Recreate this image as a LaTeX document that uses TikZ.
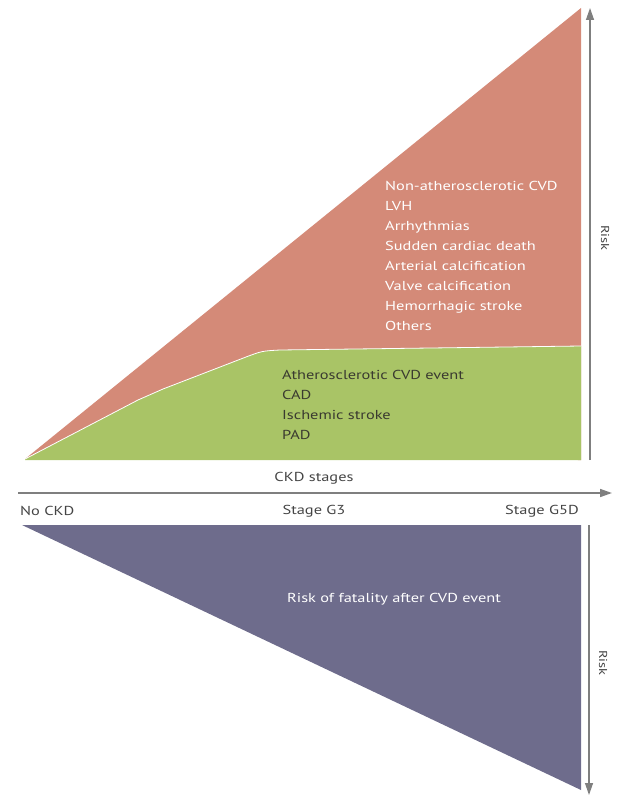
\documentclass[tikz,border=0pt]{standalone}
\usepackage{fontspec}
\setmainfont{PT Sans}[FakeStretch=1.26]
\usetikzlibrary{arrows.meta}
\definecolor{riskred}{HTML}{D48A78}
\definecolor{riskgreen}{HTML}{A9C466}
\definecolor{riskpurple}{HTML}{6E6C8C}
\definecolor{axisgray}{HTML}{7F7F7F}
\definecolor{darktext}{HTML}{3A3A30}
\definecolor{labeltext}{HTML}{444444}
\begin{document}
\begin{tikzpicture}[x=1pt,y=-1pt,
  listtext/.style={anchor=north west, inner sep=0pt, align=left, font=\fontsize{13}{20}\selectfont},
  axislabel/.style={inner sep=0pt, text=labeltext, font=\fontsize{13}{16}\selectfont},
  risklabel/.style={inner sep=0pt, rotate=-90, text=labeltext, font=\fontsize{11.5}{14}\selectfont},
  riskarrow/.style={draw=axisgray, line width=1.3pt, -{Triangle[length=12pt,width=8pt]}}]
\useasboundingbox (0,0) rectangle (624,800);
% upper triangle
\fill[riskred] (25,459) -- (581,8) -- (581,460) -- cycle;
\fill[riskgreen] (25,459) -- (138,400) .. controls (150,394) .. (163,389) -- (246,357) .. controls (262,351) .. (280,350) -- (581,346) -- (581,460) -- (25,460) -- cycle;
\draw[white, line width=0.8pt] (25,459) -- (138,400) .. controls (150,394) .. (163,389) -- (246,357) .. controls (262,351) .. (280,350) -- (581,346);
% lower triangle
\fill[riskpurple] (22,525) -- (581,525) -- (581,790) -- cycle;
% axis
\coordinate (axL) at (18,493);
\coordinate (axR) at (612,493);
\draw[axisgray, line width=1.5pt, -{Triangle[length=12pt,width=8pt]}] (axL) -- (axR);
% risk arrows
\coordinate (r1b) at (590,460);
\coordinate (r1t) at (590,8);
\draw[riskarrow] (r1b) -- (r1t);
\coordinate (r2t) at (589,525);
\coordinate (r2b) at (589,795);
\draw[riskarrow] (r2t) -- (r2b);
% texts
\node[listtext, text=white] (nonath) at (385,181) {Non-atherosclerotic CVD\\LVH\\Arrhythmias\\Sudden cardiac death\\Arterial calcification\\Valve calcification\\Hemorrhagic stroke\\Others};
\node[listtext, text=darktext] (ath) at (282,370) {Atherosclerotic CVD event\\CAD\\Ischemic stroke\\PAD};
\node[axislabel] (ckd) at (314,478) {CKD stages};
\node[axislabel, anchor=west] (nockd) at (20,511) {No CKD};
\node[axislabel] (g3) at (314,511) {Stage G3};
\node[axislabel] (g5d) at (542,511) {Stage G5D};
\node[inner sep=0pt, text=white, font=\fontsize{13}{16}\selectfont] (fatal) at (394,599) {Risk of fatality after CVD event};
\node[risklabel] (risk1) at (605,238) {Risk};
\node[risklabel] (risk2) at (603,663) {Risk};
\end{tikzpicture}
\end{document}
